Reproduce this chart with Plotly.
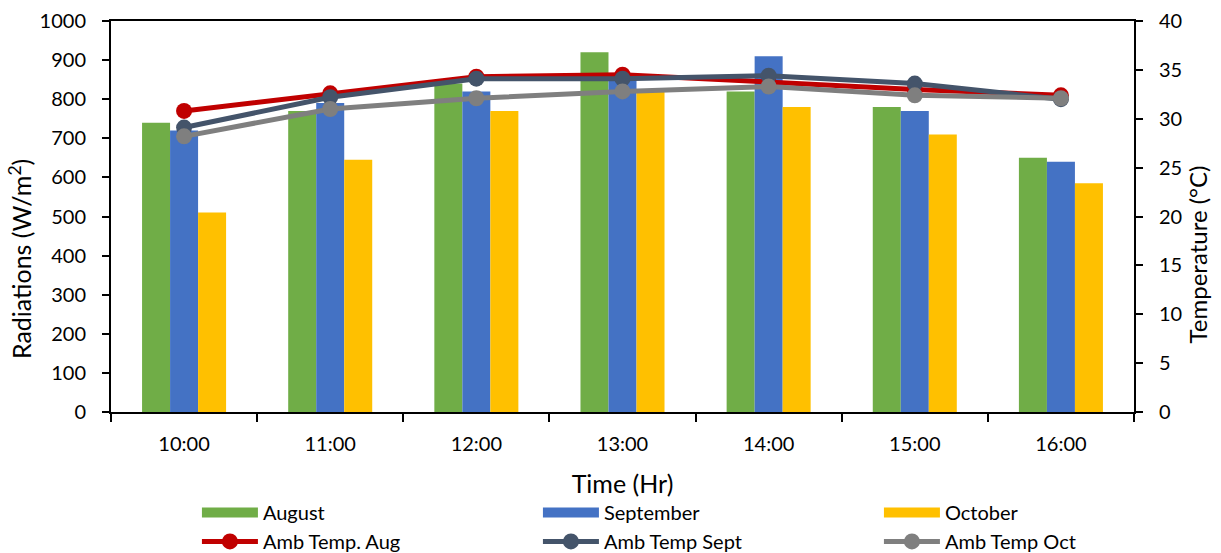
import plotly.graph_objects as go

times = ["10:00", "11:00", "12:00", "13:00", "14:00", "15:00", "16:00"]

rad_aug = [740, 770, 840, 920, 820, 780, 650]
rad_sep = [720, 790, 820, 850, 910, 770, 640]
rad_oct = [510, 645, 770, 825, 780, 710, 585]

temp_aug = [30.8, 32.6, 34.3, 34.5, 33.7, 33.0, 32.4]
temp_sep = [29.1, 32.2, 34.1, 34.1, 34.4, 33.6, 32.0]
temp_oct = [28.2, 31.0, 32.1, 32.8, 33.3, 32.4, 32.1]

FONT = "Lato"
GREEN, BLUE, GOLD = "#70AD47", "#4472C4", "#FFC000"
RED, SLATE, GREY = "#C00000", "#44546A", "#7F7F7F"

fig = go.Figure()

# radiation bars (legend entries drawn as wide swatches below)
for name, vals, col in [("August", rad_aug, GREEN),
                        ("September", rad_sep, BLUE),
                        ("October", rad_oct, GOLD)]:
    fig.add_trace(go.Bar(x=times, y=vals, name=name, marker_color=col,
                         marker_line_width=0, showlegend=False,
                         legendgroup=name, yaxis="y"))

# wide rectangular legend swatches for the bar series
for name, col in [("August", GREEN), ("September", BLUE), ("October", GOLD)]:
    fig.add_trace(go.Scatter(x=[None], y=[None], mode="lines", name=name,
                             line=dict(color=col, width=11),
                             legendgroup=name, showlegend=True))

# ambient temperature lines on the secondary axis
for name, vals, col in [("Amb Temp. Aug", temp_aug, RED),
                        ("Amb Temp Sept", temp_sep, SLATE),
                        ("Amb Temp Oct", temp_oct, GREY)]:
    fig.add_trace(go.Scatter(x=times, y=vals, name=name, mode="lines+markers",
                             line=dict(color=col, width=5),
                             marker=dict(color=col, size=16),
                             yaxis="y2"))

tick_font = dict(family=FONT, size=20, color="#000000")
title_font = dict(family=FONT, size=25, color="#000000")

# vertical axis titles, sitting slightly below the middle of the plot
fig.add_annotation(text="Radiations (W/m<sup>2</sup>)", xref="paper", yref="paper",
                   x=-0.089, y=0.391, xanchor="center", yanchor="middle",
                   textangle=-90, showarrow=False, font=title_font)
fig.add_annotation(text="Temperature (°C)", xref="paper", yref="paper",
                   x=1.0616, y=0.403, xanchor="center", yanchor="middle",
                   textangle=-90, showarrow=False,
                   font=dict(family=FONT, size=24, color="#000000"))

fig.update_layout(
    width=1221, height=553,
    margin=dict(l=111, r=87, t=21, b=141, autoexpand=False),
    paper_bgcolor="white", plot_bgcolor="white",
    font=tick_font,
    barmode="group", bargap=0.425, bargroupgap=0,
    xaxis=dict(
        showline=True, linecolor="black", linewidth=2, mirror=True,
        ticks="outside", tickson="boundaries", ticklen=8, tickwidth=2,
        tickcolor="black", showgrid=False, ticklabelstandoff=13,
        title=dict(text="Time (Hr)", font=title_font, standoff=21),
        tickfont=tick_font,
    ),
    yaxis=dict(
        range=[0, 1000], dtick=100, showgrid=False, zeroline=False,
        showline=True, linecolor="black", linewidth=2,
        ticks="outside", ticklen=7, tickwidth=2, tickcolor="black",
        ticklabelstandoff=12, tickfont=tick_font,
    ),
    yaxis2=dict(
        range=[0, 40], dtick=5, overlaying="y", side="right",
        showgrid=False, zeroline=False,
        showline=True, linecolor="black", linewidth=2,
        ticks="outside", ticklen=7, tickwidth=2, tickcolor="black",
        ticklabelstandoff=12, tickfont=tick_font,
    ),
    legend=dict(
        orientation="h", x=0.084, xanchor="left", y=-0.207, yanchor="top",
        entrywidthmode="pixels", entrywidth=270,
        itemwidth=56, font=dict(family=FONT, size=20, color="#000000"),
        bgcolor="rgba(0,0,0,0)", tracegroupgap=0,
    ),
)

fig.write_html("out.html")
